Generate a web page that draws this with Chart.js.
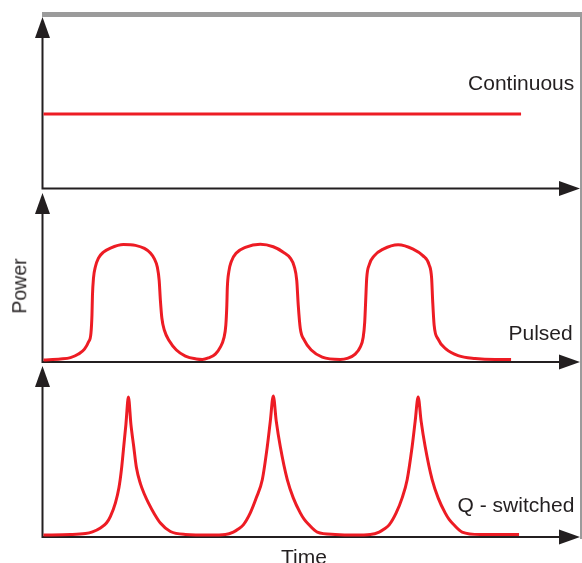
<!DOCTYPE html>
<html>
<head>
<meta charset="utf-8">
<script src="https://cdn.jsdelivr.net/npm/chart.js@4.4.0/dist/chart.umd.min.js"></script>
<style>
  html, body { margin: 0; padding: 0; background: #ffffff; }
  #wrap { position: relative; width: 582px; height: 563px; overflow: hidden; background: #fff; }
  canvas { position: absolute; left: 0; }
  .lbl { position: absolute; font-family: "Liberation Sans", Arial, sans-serif; color: #231f20;
         font-size: 21px; line-height: 21px; white-space: nowrap; }
  .frameTop { position: absolute; left: 42px; top: 12px; width: 540px; height: 4.5px; background: #9b9b9b; }
  .frameRight { position: absolute; left: 579.5px; top: 12px; width: 2.5px; height: 527px; background: #9b9b9b; }
</style>
</head>
<body>
<div id="wrap">
  <div class="frameTop"></div>
  <div class="frameRight"></div>
  <canvas id="c1" width="582" height="196" style="top:0px"></canvas>
  <canvas id="c2" width="582" height="184" style="top:186px"></canvas>
  <canvas id="c3" width="582" height="185" style="top:360px"></canvas>
  <div class="lbl" style="right:7.7px; top:72px; text-align:right;">Continuous</div>
  <div class="lbl" style="right:9.3px; top:322px; text-align:right;">Pulsed</div>
  <div class="lbl" style="right:7.7px; top:494px; text-align:right;">Q - switched</div>
  <div class="lbl" style="left:19.5px; top:285.5px; font-size:19.5px; line-height:19.5px; transform:translate(-50%,-50%) rotate(-90deg);">Power</div>
  <div class="lbl" style="left:304px; top:546px; transform:translateX(-50%);">Time</div>
</div>
<script>
// Time (arbitrary units) and power (% of axis height)
const continuousTime  = [1, 479];
const continuousPower = [43.4, 43.4];

const pulsedTime  = [1, 18, 28, 36, 42, 46, 48.5, 49.5, 50, 51, 53, 56, 61, 68, 81, 93, 102, 108, 112, 115, 116.8, 118, 119.5, 122, 127, 134, 143, 154,
                     160, 166, 173, 178, 181.5, 183.5, 184.5, 185, 186.5, 189, 194, 203, 218, 231, 241, 248, 252, 254.5, 256, 258, 262, 269, 280, 298,
                     305, 313, 318, 321, 322.5, 323.5, 324.5, 327, 332, 341, 356, 371, 381, 387, 389.5, 390.5, 392, 396, 404, 416, 433, 453, 469];
const pulsedPower = [1.2, 1.8, 2.6, 4.7, 7.6, 11.8, 17.1, 27.6, 39.4, 49.5, 56.5, 61.5, 65.0, 67.4, 69.5, 69.0, 67.2, 64.5, 61.0, 56.0, 48.2, 36.5, 25.9, 18.8, 12.4, 7.1, 3.5, 1.8,
                     1.5, 2.4, 4.7, 8.8, 14.1, 21.8, 33.5, 44.0, 53.5, 59.5, 64.5, 67.8, 69.7, 68.2, 65.0, 61.5, 56.5, 48.2, 33.5, 20, 12.9, 7.1, 2.9, 1.5,
                     2.1, 4.7, 8.8, 14.7, 23.5, 36.5, 49.5, 57.5, 62.8, 66.8, 69.4, 66.8, 62.8, 57.5, 49.5, 36.5, 21.8, 13.5, 7.6, 3.8, 2.1, 1.5, 1.5];

const qTime  = [1, 28, 43, 50, 58, 64, 68, 73, 76.5, 79, 81.3, 83.5, 86, 88.5, 91.3, 94, 98, 102, 106, 112, 118, 128, 143, 168,
                183, 191, 196, 201, 208, 214, 220, 225, 228, 231, 234, 238, 245, 251, 258, 262, 266, 275, 293, 313,
                328, 337, 342, 347, 354, 360, 365, 370, 373, 376, 379, 383, 390, 396, 403, 407, 411, 420, 438, 477];
const qPower = [1.2, 1.4, 2.0, 3.0, 5.3, 8.2, 12.1, 20, 28.8, 39.4, 52.9, 65.9, 81.8, 65.9, 52.9, 40.6, 31.2, 25.0, 20, 13.5, 8.2, 3.2, 1.5, 1.2,
                1.5, 2.9, 4.7, 7.1, 14.1, 22.9, 33.5, 52.9, 67.6, 82.4, 67.6, 52.9, 33.5, 22.9, 14.1, 10.3, 7.6, 2.9, 1.5, 1.2,
                1.5, 2.9, 4.7, 7.1, 14.1, 22.9, 33.5, 52.9, 67.6, 81.8, 67.6, 52.9, 33.5, 22.9, 14.1, 10.3, 7.6, 2.9, 1.5, 1.5];

const RED = '#ED1C24';
const INK = '#231f20';

function pts(xs, ys) { return xs.map((x, i) => ({ x: x, y: ys[i] })); }

const arrowAxes = {
  id: 'arrowAxes',
  beforeDatasetsDraw(chart) {
    const { ctx, chartArea: { left, right, top, bottom } } = chart;
    ctx.save();
    ctx.strokeStyle = INK;
    ctx.fillStyle = INK;
    ctx.lineWidth = 2;
    ctx.beginPath();
    ctx.moveTo(left, bottom + 1);
    ctx.lineTo(left, top + 18);
    ctx.moveTo(left - 1, bottom);
    ctx.lineTo(right - 18, bottom);
    ctx.stroke();
    // y arrow
    ctx.beginPath();
    ctx.moveTo(left, top);
    ctx.lineTo(left - 7.5, top + 21);
    ctx.lineTo(left + 7.5, top + 21);
    ctx.closePath();
    ctx.fill();
    // x arrow
    ctx.beginPath();
    ctx.moveTo(right, bottom);
    ctx.lineTo(right - 21, bottom - 7.5);
    ctx.lineTo(right - 21, bottom + 7.5);
    ctx.closePath();
    ctx.fill();
    ctx.restore();
  }
};

function makeChart(id, xs, ys, pad) {
  return new Chart(document.getElementById(id), {
    type: 'line',
    data: {
      datasets: [{
        data: pts(xs, ys),
        borderColor: RED,
        borderWidth: 3,
        pointRadius: 0,
        fill: false,
        tension: 0.4,
        cubicInterpolationMode: 'monotone',
        borderCapStyle: 'butt',
        borderJoinStyle: 'round'
      }]
    },
    options: {
      responsive: false,
      animation: false,
      devicePixelRatio: 1,
      layout: { padding: pad },
      plugins: { legend: { display: false }, tooltip: { enabled: false } },
      scales: {
        x: { type: 'linear', display: false, min: 0, max: 538 },
        y: { type: 'linear', display: false, min: 0, max: 100 }
      }
    },
    plugins: [arrowAxes]
  });
}

makeChart('c1', continuousTime, continuousPower, { left: 42.5, right: 2, top: 17, bottom: 7.5 });
makeChart('c2', pulsedTime, pulsedPower, { left: 42.5, right: 2, top: 7, bottom: 8 });
makeChart('c3', qTime, qPower, { left: 42.5, right: 2, top: 6, bottom: 8 });
</script>
</body>
</html>
